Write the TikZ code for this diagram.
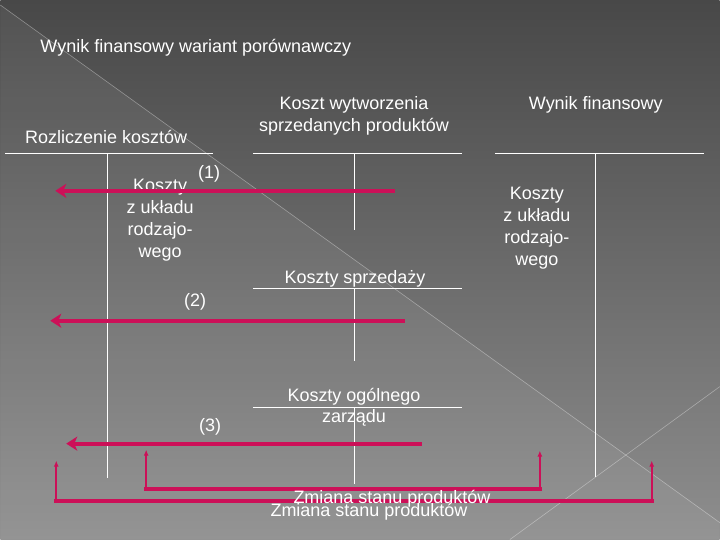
\documentclass[tikz,border=0pt]{standalone}
\usepackage{fontspec}
\setmainfont{Liberation Sans}
\usetikzlibrary{arrows.meta}
\definecolor{mypink}{RGB}{204, 16, 88}
\definecolor{bgtop}{RGB}{72, 72, 72}
\definecolor{bgbottom}{RGB}{142, 142, 142}

\tikzset{
 txt/.style={text=white, inner sep=0pt, align=center, font=\fontsize{18}{22}\selectfont},
 tline/.style={white, line width=1pt},
 bigarrow/.style={-{Stealth[length=11pt,width=14pt,inset=3pt]}, line width=4pt, color=mypink},
 bar/.style={line width=4pt, color=mypink, line cap=rect},
 smallarrow/.style={-{Latex[length=6pt,width=5pt]}, line width=2pt, color=mypink},
}

\begin{document}
\begin{tikzpicture}[x=1pt,y=-1pt]

 % background of the slide
 \shade[top color=bgtop, bottom color=bgbottom] (0,0) rectangle (720,540);
 \fill[white, opacity=0.06] (0,5) -- (720,523) -- (720,540) -- (0,540) -- cycle;
 \draw[white, opacity=0.35, line width=0.6pt] (0,5) -- (720,523);
 \draw[white, opacity=0.35, line width=0.6pt] (510,540) -- (720,387);
 \useasboundingbox (0,0) rectangle (720,540);

 % titles
 \node[txt, anchor=west] (title) at (40,48) {Wynik finansowy wariant porównawczy};
 \node[txt] (rozl) at (106,137) {Rozliczenie kosztów};
 \node[txt] (kwsp) at (354,116) {Koszt wytworzenia\\sprzedanych produktów};
 \node[txt] (wynik) at (596,105) {Wynik finansowy};

 % T accounts
 \draw[tline] (5,154) -- (213,154);
 \draw[tline] (107,154) -- (107,478);
 \draw[tline] (253,154) -- (462,154);
 \draw[tline] (354,154) -- (354,230);
 \draw[tline] (253,289) -- (462,289);
 \draw[tline] (354,289) -- (354,361);
 \draw[tline] (253,408) -- (462,408);
 \draw[tline] (354,408) -- (354,484);
 \draw[tline] (495,154) -- (704,154);
 \draw[tline] (596,154) -- (596,477);

 % labels
 \node[txt] (kzur1) at (160,220) {Koszty\\z układu\\rodzajo-\\wego};
 \node[txt] (kzur2) at (537,228) {Koszty\\z układu\\rodzajo-\\wego};
 \node[txt] (ksp) at (355,279) {Koszty sprzedaży};
 \node[txt, font=\fontsize{18}{21}\selectfont] (kog) at (354,408) {Koszty ogólnego\\zarządu};
 \node[txt] (n1) at (209,174) {(1)};
 \node[txt] (n2) at (195,302) {(2)};
 \node[txt] (n3) at (210,427) {(3)};

 % arrows
 \coordinate (A1) at (395,191);
 \coordinate (A1e) at (55,191);
 \coordinate (A2) at (405,321);
 \coordinate (A2e) at (50,321);
 \coordinate (A3) at (422,444);
 \coordinate (A3e) at (66,444);
 \draw[bigarrow] (A1) -- (A1e);
 \draw[bigarrow] (A2) -- (A2e);
 \draw[bigarrow] (A3) -- (A3e);

 % change of stock brackets
 \coordinate (B1) at (146,489);
 \coordinate (B1t) at (146,450);
 \coordinate (B1c) at (540,489);
 \coordinate (B1ct) at (540,451);
 \coordinate (B2) at (56,501);
 \coordinate (B2t) at (56,461);
 \coordinate (B2c) at (652,501);
 \coordinate (B2ct) at (652,461);
 \draw[bar] (B1) -- (B1c);
 \draw[bar] (B2) -- (B2c);
 \draw[smallarrow] (B1) -- (B1t);
 \draw[smallarrow] (B1c) -- (B1ct);
 \draw[smallarrow] (B2) -- (B2t);
 \draw[smallarrow] (B2c) -- (B2ct);

 \node[txt] (zm1) at (392,499) {Zmiana stanu produktów};
 \node[txt] (zm2) at (369,512) {Zmiana stanu produktów};

\end{tikzpicture}
\end{document}
